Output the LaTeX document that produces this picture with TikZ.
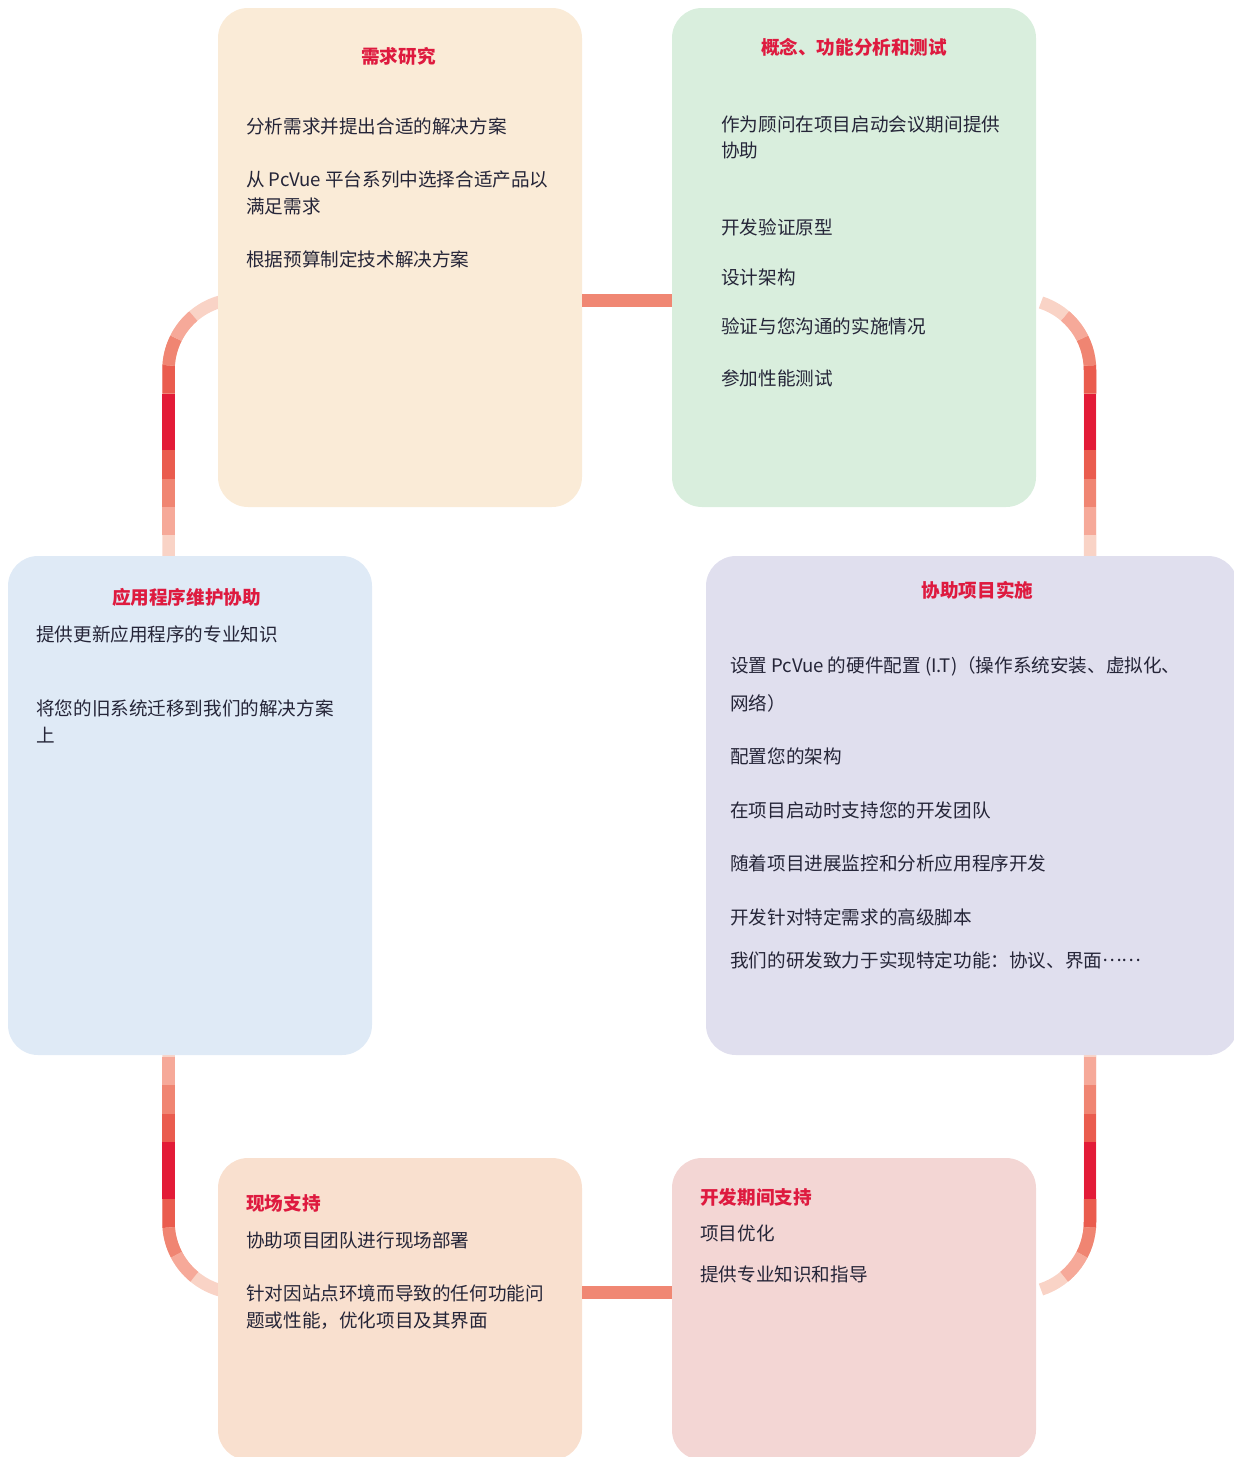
\documentclass[tikz,border=0pt]{standalone}
\usepackage{fontspec}
\setmainfont{Noto Sans CJK SC}
\usetikzlibrary{calc}
\definecolor{ca}{HTML}{F9D3C6}
\definecolor{cb}{HTML}{F6A999}
\definecolor{cc}{HTML}{F08572}
\definecolor{cd}{HTML}{EA5C4E}
\definecolor{ce}{HTML}{E31B37}
\definecolor{barc}{HTML}{F08773}
\definecolor{titlec}{HTML}{DE1A3F}
\definecolor{textc}{HTML}{252538}
\definecolor{fa}{HTML}{FAEBD7}
\definecolor{fb}{HTML}{D9EEDD}
\definecolor{fc}{HTML}{DFEAF6}
\definecolor{fd}{HTML}{E0DFEE}
\definecolor{fe}{HTML}{F9E0CF}
\definecolor{ff}{HTML}{F3D6D4}
\tikzset{
  conn/.style={line width=12.5pt, line cap=butt},
  box/.style={rectangle, rounded corners=30pt, draw=none, inner sep=0pt},
  ttl/.style={inner sep=0pt, text=titlec, font=\fontsize{18.6}{22}\selectfont\bfseries},
  txt/.style={inner sep=0pt, text=textc, anchor=base west, font=\fontsize{18.6}{22}\selectfont},
}
\newcommand{\gradconn}[2]{%
  \draw[conn, ca] #1;
  \foreach \k/\segc in {1/cb,2/cc,3/cd,4/ce,5/ce,6/cd,7/cc,8/cb}{%
    \pgfmathsetmacro{\segph}{3000+#2-\k*#2}
    \draw[conn, \segc, dash pattern=on #2pt off 3000pt, dash phase=\segph pt] #1;
  }}
\begin{document}
\begin{tikzpicture}[x=1pt,y=1pt]
\useasboundingbox (0,0) rectangle (1234,-1457);
\clip (0,0) rectangle (1234,-1457);

% connector anchor coordinates
\coordinate (tl) at (168.5,-563.5);
\coordinate (tr) at (1090,-563.5);
\coordinate (bl) at (168.5,-1028);
\coordinate (br) at (1090,-1028);

% curved gradient connectors
\gradconn{(tl) -- ++(0,193.5) arc[start angle=180,end angle=95,radius=71]}{28.3}
\gradconn{(tr) -- ++(0,193.5) arc[start angle=0,end angle=72,radius=71]}{28.3}
\gradconn{(bl) -- ++(0,-194) arc[start angle=180,end angle=265,radius=71]}{28.5}
\gradconn{(br) -- ++(0,-194) arc[start angle=0,end angle=-72,radius=71]}{28.5}

% boxes
\node[box, fill=fa, minimum width=364pt, minimum height=499pt] (b1) at (400,-257.5) {};
\node[box, fill=fb, minimum width=364pt, minimum height=499pt] (b2) at (854,-257.5) {};
\node[box, fill=fc, minimum width=364pt, minimum height=499pt] (b3) at (190,-805.5) {};
\node[box, fill=fd, minimum width=532pt, minimum height=499pt] (b4) at (972,-805.5) {};
\node[box, fill=fe, minimum width=364pt, minimum height=302pt] (b5) at (400,-1309) {};
\node[box, fill=ff, minimum width=364pt, minimum height=302pt] (b6) at (854,-1309) {};

% straight connectors
\draw[conn, barc] (b1.east |- 0,-300.3) -- (b2.west |- 0,-300.3);
\draw[conn, barc] (b5.east |- 0,-1292.5) -- (b6.west |- 0,-1292.5);

% box 1
\node[ttl, anchor=base] (t1) at (398.5,-63) {需求研究};
\node[txt] (t1a) at (246,-133) {分析需求并提出合适的解决方案};
\node[txt] (t1b) at (246,-186) {从 PcVue 平台系列中选择合适产品以};
\node[txt] (t1c) at (246,-213) {满足需求};
\node[txt] (t1d) at (246,-266) {根据预算制定技术解决方案};

% box 2
\node[ttl, anchor=base] (t2) at (854,-54) {概念、功能分析和测试};
\node[txt] (t2a) at (721,-131) {作为顾问在项目启动会议期间提供};
\node[txt] (t2b) at (721,-157) {协助};
\node[txt] (t2c) at (721,-234) {开发验证原型};
\node[txt] (t2d) at (721,-284) {设计架构};
\node[txt] (t2e) at (721,-333) {验证与您沟通的实施情况};
\node[txt] (t2f) at (721,-385) {参加性能测试};

% box 3
\node[ttl, anchor=base] (t3) at (186.5,-604) {应用程序维护协助};
\node[txt] (t3a) at (36,-641) {提供更新应用程序的专业知识};
\node[txt] (t3b) at (36,-715) {将您的旧系统迁移到我们的解决方案};
\node[txt] (t3c) at (36,-742) {上};

% box 4
\node[ttl, anchor=base] (t4) at (977.5,-597) {协助项目实施};
\node[txt] (t4a) at (730,-672) {设置 PcVue 的硬件配置 (I.T)（操作系统安装、虚拟化、};
\node[txt] (t4b) at (730,-710) {网络）};
\node[txt] (t4c) at (730,-763) {配置您的架构};
\node[txt] (t4d) at (730,-817) {在项目启动时支持您的开发团队};
\node[txt] (t4e) at (730,-870) {随着项目进展监控和分析应用程序开发};
\node[txt] (t4f) at (730,-924) {开发针对特定需求的高级脚本};
\node[txt] (t4g) at (730,-967) {我们的研发致力于实现特定功能：协议、界面\raisebox{0.3em}{……}};

% box 5
\node[ttl, anchor=base west] (t5) at (246,-1210) {现场支持};
\node[txt] (t5a) at (246,-1247) {协助项目团队进行现场部署};
\node[txt] (t5b) at (246,-1300) {针对因站点环境而导致的任何功能问};
\node[txt] (t5c) at (246,-1327) {题或性能，优化项目及其界面};

% box 6
\node[ttl, anchor=base west] (t6) at (700,-1204) {开发期间支持};
\node[txt] (t6a) at (700,-1240) {项目优化};
\node[txt] (t6b) at (700,-1281) {提供专业知识和指导};
\end{tikzpicture}
\end{document}
